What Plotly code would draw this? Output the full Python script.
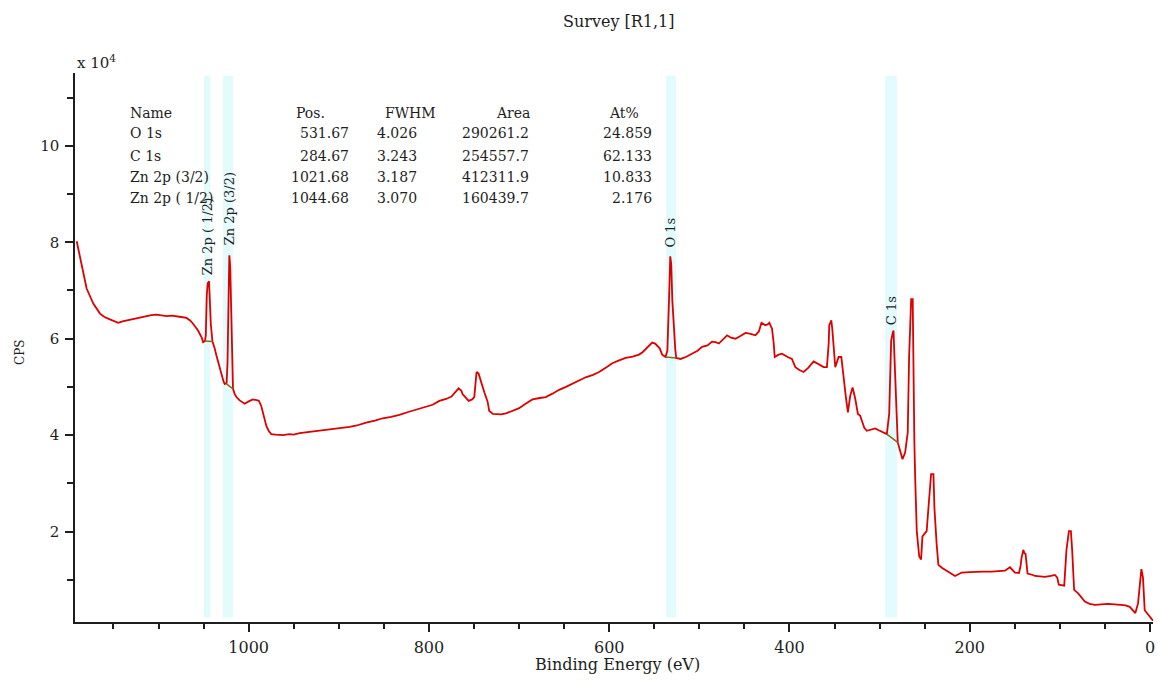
import plotly.graph_objects as go

# XPS survey spectrum: binding energy (eV) and counts per second (x 10^4)
binding_energy = [
    1190.8, 1187.0, 1183.5, 1179.8, 1176.0, 1172.4, 1165.0, 1160.0, 1154.0, 1149.0,
    1144.7, 1140.0, 1135.5, 1130.0, 1124.4, 1119.0, 1113.3, 1108.0, 1102.2, 1096.0,
    1091.0, 1085.0, 1080.0, 1075.0, 1069.0, 1065.0, 1061.7, 1056.2, 1052.0, 1050.6,
    1048.5, 1047.6, 1046.5, 1045.5, 1044.0, 1043.0, 1042.0, 1040.2, 1038.0, 1035.8,
    1033.0, 1030.3, 1028.0, 1026.6, 1024.5, 1023.5, 1022.5, 1021.5, 1020.5, 1019.5,
    1018.5, 1017.4, 1015.5, 1013.6, 1010.0, 1006.3, 1004.4, 999.0, 995.2, 990.0,
    988.6, 986.0, 984.2, 980.4, 977.5, 974.9, 970.0, 962.0, 955.0, 950.0,
    943.5, 935.0, 925.0, 915.0, 906.6, 897.0, 888.0, 880.0, 869.7, 860.0,
    851.3, 842.0, 832.8, 823.0, 814.3, 805.0, 795.9, 788.5, 781.0, 775.0,
    770.0, 767.1, 764.0, 762.7, 756.0, 752.0, 749.7, 748.0, 747.2, 745.0,
    743.4, 741.2, 738.6, 735.0, 733.1, 729.0, 725.7, 720.0, 714.6, 707.0,
    699.9, 692.0, 685.1, 677.0, 670.4, 663.0, 655.6, 648.0, 640.9, 633.0,
    626.1, 618.0, 611.3, 603.0, 596.6, 589.0, 581.8, 574.0, 567.0, 563.0,
    559.6, 556.0, 552.3, 549.0, 546.7, 544.0, 541.2, 537.5, 535.5, 534.6,
    533.5, 532.3, 531.2, 530.0, 528.2, 526.8, 525.7, 520.9, 515.0, 508.0,
    502.0, 497.0, 491.0, 485.9, 482.0, 478.4, 474.0, 469.2, 465.0, 459.9,
    454.0, 448.8, 443.0, 437.8, 434.0, 431.1, 428.5, 426.7, 424.0, 422.3,
    420.5, 419.4, 417.5, 416.4, 412.0, 408.3, 402.0, 397.3, 393.5, 389.0,
    384.3, 379.0, 373.2, 368.0, 362.1, 358.5, 356.5, 355.9, 353.6, 352.5,
    351.4, 350.0, 349.2, 347.5, 345.5, 342.5, 340.0, 337.5, 335.2, 332.6,
    330.0, 327.0, 324.1, 321.5, 319.7, 317.0, 314.2, 309.0, 304.9, 301.0,
    297.6, 294.0, 292.0, 289.4, 288.0, 287.2, 285.5, 284.6, 283.5, 282.8,
    281.0, 279.9, 277.2, 274.6, 271.7, 268.8, 267.3, 266.0, 265.0, 263.3,
    262.5, 261.5, 260.6, 258.8, 256.1, 254.0, 252.5, 250.0, 247.8, 245.1,
    242.9, 240.3, 239.2, 236.7, 234.8, 231.0, 227.4, 222.0, 216.3, 212.0,
    209.0, 200.0, 194.1, 185.0, 175.7, 168.0, 160.9, 155.4, 152.0, 149.8,
    145.4, 143.5, 142.6, 140.6, 139.3, 138.1, 136.8, 135.9, 130.0, 127.7,
    122.0, 116.7, 110.0, 105.6, 103.0, 101.2, 95.2, 93.5, 92.7, 90.0,
    87.8, 86.4, 85.0, 84.2, 79.7, 76.0, 72.3, 67.0, 61.2, 54.0,
    46.5, 39.0, 31.8, 27.0, 22.5, 19.0, 16.3, 13.3, 11.4, 9.6,
    7.8, 5.9, 3.0, 0.3, -3.3,
]
cps_e4 = [
    8.02, 7.67, 7.39, 7.04, 6.88, 6.73, 6.52, 6.45, 6.40, 6.36,
    6.33, 6.36, 6.38, 6.40, 6.43, 6.45, 6.47, 6.49, 6.50, 6.48,
    6.47, 6.48, 6.47, 6.45, 6.43, 6.38, 6.31, 6.17, 6.02, 5.93,
    5.95, 6.07, 6.90, 7.15, 7.19, 6.75, 6.30, 5.94, 5.82, 5.65,
    5.45, 5.24, 5.12, 5.06, 5.08, 5.50, 6.69, 7.73, 7.50, 6.77,
    6.00, 4.96, 4.85, 4.79, 4.72, 4.68, 4.65, 4.71, 4.74, 4.72,
    4.71, 4.60, 4.47, 4.19, 4.08, 4.02, 4.01, 4.00, 4.02, 4.01,
    4.04, 4.06, 4.09, 4.10, 4.12, 4.15, 4.17, 4.20, 4.26, 4.30,
    4.35, 4.38, 4.42, 4.48, 4.53, 4.58, 4.63, 4.71, 4.75, 4.80,
    4.90, 4.97, 4.92, 4.85, 4.71, 4.74, 4.79, 5.10, 5.31, 5.28,
    5.17, 5.03, 4.89, 4.70, 4.50, 4.44, 4.44, 4.43, 4.45, 4.50,
    4.56, 4.66, 4.74, 4.77, 4.79, 4.86, 4.94, 5.00, 5.06, 5.13,
    5.20, 5.25, 5.31, 5.41, 5.49, 5.55, 5.60, 5.63, 5.67, 5.72,
    5.79, 5.86, 5.92, 5.90, 5.86, 5.80, 5.67, 5.62, 5.75, 6.14,
    6.90, 7.71, 7.55, 6.80, 6.15, 5.80, 5.60, 5.58, 5.62, 5.69,
    5.75, 5.83, 5.86, 5.94, 5.93, 5.90, 5.98, 6.07, 6.02, 6.00,
    6.06, 6.12, 6.10, 6.07, 6.15, 6.33, 6.30, 6.28, 6.30, 6.33,
    6.25, 6.21, 5.90, 5.62, 5.67, 5.69, 5.62, 5.58, 5.41, 5.35,
    5.31, 5.40, 5.53, 5.47, 5.41, 5.41, 5.90, 6.28, 6.38, 6.20,
    6.00, 5.60, 5.41, 5.50, 5.62, 5.62, 5.17, 4.80, 4.47, 4.82,
    4.99, 4.75, 4.44, 4.40, 4.30, 4.15, 4.09, 4.12, 4.14, 4.10,
    4.07, 4.05, 4.02, 4.44, 5.50, 5.96, 6.12, 6.17, 5.60, 5.20,
    4.40, 3.85, 3.67, 3.50, 3.64, 4.06, 5.62, 6.50, 6.82, 6.82,
    4.92, 3.90, 3.15, 2.01, 1.49, 1.42, 1.90, 1.95, 2.01, 2.67,
    3.19, 3.19, 2.49, 1.73, 1.31, 1.25, 1.21, 1.14, 1.08, 1.12,
    1.15, 1.16, 1.17, 1.17, 1.17, 1.18, 1.19, 1.26, 1.18, 1.15,
    1.14, 1.30, 1.45, 1.62, 1.55, 1.54, 1.30, 1.13, 1.10, 1.08,
    1.07, 1.06, 1.08, 1.10, 1.05, 0.90, 0.88, 1.30, 1.62, 2.01,
    2.01, 1.62, 1.10, 0.79, 0.72, 0.64, 0.55, 0.50, 0.48, 0.49,
    0.50, 0.49, 0.48, 0.47, 0.44, 0.36, 0.31, 0.51, 0.96, 1.22,
    1.04, 0.37, 0.30, 0.24, 0.15,
]

# Quantification regions (binding-energy windows) and their backgrounds
region_lo = [1042.5, 1017.4, 525.7, 280.9]
region_hi = [1049.5, 1028.5, 536.8, 293.8]
bg_x = [[1048.5, 1040.2], [1025.0, 1017.4], [537.5, 525.7], [292.0, 280.0]]
bg_y = [[5.95, 5.94], [5.07, 4.96], [5.62, 5.60], [4.02, 3.85]]

# Peak labels: position (eV) and base of the rotated text (x 10^4)
label_text = ["Zn 2p ( 1/2)", "Zn 2p (3/2)", "O 1s", "C 1s"]
label_x = [1045.4, 1021.0, 531.9, 286.8]
label_y = [7.28, 7.90, 7.84, 6.24]

# Quantification table
tbl_names = ["O 1s", "C 1s", "Zn 2p (3/2)", "Zn 2p ( 1/2)"]
tbl_pos = ["531.67", "284.67", "1021.68", "1044.68"]
tbl_fwhm = ["4.026", "3.243", "3.187", "3.070"]
tbl_area = ["290261.2", "254557.7", "412311.9", "160439.7"]
tbl_at = ["24.859", "62.133", "10.833", "2.176"]

SERIF = "DejaVu Serif"
INK = "#1e1e1e"
RED = "rgb(221,0,0)"

fig = go.Figure()

fig.add_trace(go.Scatter(
    x=binding_energy, y=cps_e4, mode="lines",
    line=dict(color=RED, width=1.8), hoverinfo="skip", showlegend=False,
))
for bx, by in zip(bg_x, bg_y):
    fig.add_trace(go.Scatter(
        x=bx, y=by, mode="lines", line=dict(color="#8a6a1a", width=1.5),
        hoverinfo="skip", showlegend=False,
    ))

shapes = []
for lo, hi in zip(region_lo, region_hi):
    shapes.append(dict(
        type="rect", xref="x", yref="paper", x0=lo, x1=hi, y0=0.008, y1=0.995,
        fillcolor="#e2fbfd", line=dict(width=0), layer="below",
    ))

ann = []
for t, x, y in zip(label_text, label_x, label_y):
    ann.append(dict(
        x=x, y=y, xref="x", yref="y", text=t, showarrow=False, textangle=-90,
        xanchor="center", yanchor="bottom", font=dict(family=SERIF, size=13, color=INK),
    ))

# table layout (x in eV, y in x 10^4 CPS)
row_y = [10.27, 9.79, 9.36, 8.92]
head_y = 10.68
tfont = dict(family=SERIF, size=14, color=INK)
table = [
    dict(x=1134, y=head_y, text="Name", xanchor="left"),
    dict(x=931, y=head_y, text="Pos.", xanchor="center"),
    dict(x=820, y=head_y, text="FWHM", xanchor="center"),
    dict(x=707, y=head_y, text="Area", xanchor="center"),
    dict(x=584, y=head_y, text="At%", xanchor="center"),
]
for i, ry in enumerate(row_y):
    table.append(dict(x=1134, y=ry, text=tbl_names[i], xanchor="left"))
    table.append(dict(x=886, y=ry, text=tbl_pos[i], xanchor="right"))
    table.append(dict(x=811, y=ry, text=tbl_fwhm[i], xanchor="right"))
    table.append(dict(x=687, y=ry, text=tbl_area[i], xanchor="right"))
    table.append(dict(x=550, y=ry, text=tbl_at[i], xanchor="right"))
for a in table:
    a.update(xref="x", yref="y", showarrow=False, yanchor="middle", font=tfont)
ann.extend(table)

ann.append(dict(x=0.505, y=1.093, xref="paper", yref="paper", text="Survey [R1,1]",
                xanchor="center", yanchor="middle", showarrow=False,
                font=dict(family=SERIF, size=16, color=INK)))
ann.append(dict(x=0.0, y=1.02, xref="paper", yref="paper", text="x 10<sup>4</sup>",
                xanchor="left", yanchor="middle", showarrow=False,
                font=dict(family=SERIF, size=15, color=INK)))
ann.append(dict(x=-0.051, y=0.49, xref="paper", yref="paper", text="CPS", textangle=-90,
                xanchor="center", yanchor="middle", showarrow=False,
                font=dict(family=SERIF, size=12, color=INK)))
ann.append(dict(x=0.503, y=-0.078, xref="paper", yref="paper", text="Binding Energy (eV)",
                xanchor="center", yanchor="middle", showarrow=False,
                font=dict(family=SERIF, size=16, color=INK)))

fig.update_layout(
    width=1158, height=680,
    margin=dict(l=75, r=3, t=73, b=58),
    paper_bgcolor="white", plot_bgcolor="white",
    shapes=shapes, annotations=ann,
    xaxis=dict(
        range=[1192.7, -3.3], tickmode="linear", tick0=0, dtick=200,
        ticks="outside", ticklen=8, tickwidth=1.5, tickcolor=INK,
        minor=dict(dtick=50, ticks="outside", ticklen=5, tickwidth=1.5, tickcolor=INK),
        showline=True, linecolor=INK, linewidth=1.5, showgrid=False, zeroline=False,
        tickfont=dict(family=SERIF, size=16, color=INK), ticklabelstandoff=2,
    ),
    yaxis=dict(
        range=[0.125, 11.51], tickmode="linear", tick0=0, dtick=2,
        ticks="outside", ticklen=8, tickwidth=1.5, tickcolor=INK,
        minor=dict(dtick=1, ticks="outside", ticklen=6, tickwidth=1.5, tickcolor=INK),
        showline=True, linecolor=INK, linewidth=1.5, showgrid=False, zeroline=False,
        tickfont=dict(family=SERIF, size=15, color=INK), ticklabelstandoff=3,
    ),
)

fig.write_html("out.html")
